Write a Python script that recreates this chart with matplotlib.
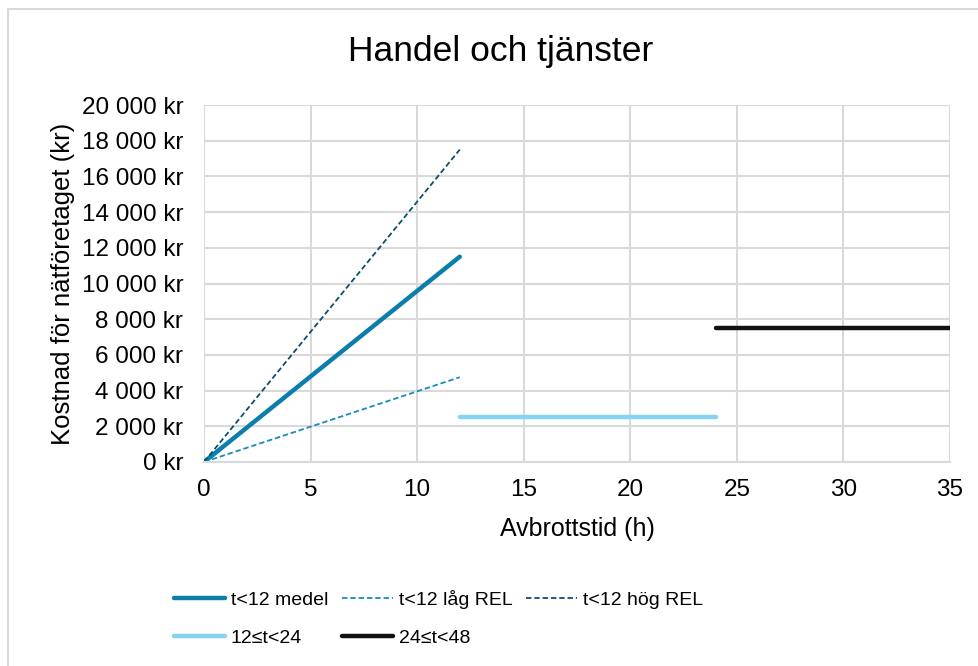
import matplotlib.pyplot as plt
from matplotlib.patches import Rectangle
from matplotlib.ticker import FuncFormatter

# Data
t_short = [0, 12]
medel = [0, 11500]
lag_rel = [0, 4750]
hog_rel = [0, 17500]

t_mid = [12, 24]
cost_mid = [2500, 2500]

t_long = [24, 48]
cost_long = [7500, 7500]

x_ticks = [0, 5, 10, 15, 20, 25, 30, 35]
y_ticks = list(range(0, 20001, 2000))

plt.rcParams['font.family'] = ['Liberation Sans', 'DejaVu Sans']

fig = plt.figure(figsize=(9.79, 6.66), dpi=100)
ax = fig.add_axes([204 / 979, 1 - 462 / 666, 746 / 979, 357 / 666])

# outer chart border
fig.patches.append(Rectangle((8 / 979, -0.05), 1.1, 1 - 9 / 666 + 0.05,
                             transform=fig.transFigure, fill=False,
                             edgecolor="#d9d9d9", linewidth=1.5))

l_medel, = ax.plot(t_short, medel, color="#0a7fab", linewidth=3.2,
                   label="t<12 medel", solid_capstyle="round")
l_lag, = ax.plot(t_short, lag_rel, color="#1a8bbd", linewidth=1.3,
                 linestyle=(0, (3, 1.6)), label="t<12 låg REL")
l_hog, = ax.plot(t_short, hog_rel, color="#0c4e6b", linewidth=1.3,
                 linestyle=(0, (3, 1.6)), label="t<12 hög REL")
l_mid, = ax.plot(t_mid, cost_mid, color="#86d3f1", linewidth=3.2,
                 label="12≤t<24", solid_capstyle="round")
l_long, = ax.plot(t_long, cost_long, color="#111111", linewidth=3.2,
                  label="24≤t<48", solid_capstyle="round")

ax.set_xlim(0, 35)
ax.set_ylim(0, 20000)
ax.set_xticks(x_ticks)
ax.set_yticks(y_ticks)
ax.yaxis.set_major_formatter(FuncFormatter(lambda v, p: f"{int(v):,} kr".replace(",", " ")))
ax.grid(True, color="#d9d9d9", linewidth=1.5)
ax.set_axisbelow(True)
for s in ["top", "right", "left"]:
    ax.spines[s].set_visible(False)
ax.spines["bottom"].set_color("#d9d9d9")
ax.spines["bottom"].set_linewidth(1.5)
ax.tick_params(length=0, labelsize=17.5, pad=12)
ax.tick_params(axis="y", pad=15)

ax.set_xlabel("Avbrottstid (h)", fontsize=18, labelpad=12)
ax.set_ylabel("Kostnad för nätföretaget (kr)", fontsize=18.5, labelpad=5)
fig.text(501 / 979, 1 - 52 / 666, "Handel och tjänster", fontsize=25.5,
         ha="center", va="center")

# legend filled row by row (matplotlib fills column-wise, so reorder)
handles = [l_medel, l_mid, l_lag, l_long, l_hog]
fig.legend(handles=handles, loc="upper left",
           bbox_to_anchor=(166 / 979, 1 - 582 / 666), ncol=3, frameon=False,
           fontsize=14, handlelength=2.63, handletextpad=0.3,
           columnspacing=0.7, labelspacing=1.05, borderaxespad=0)

fig.savefig("out.png", dpi=100)
